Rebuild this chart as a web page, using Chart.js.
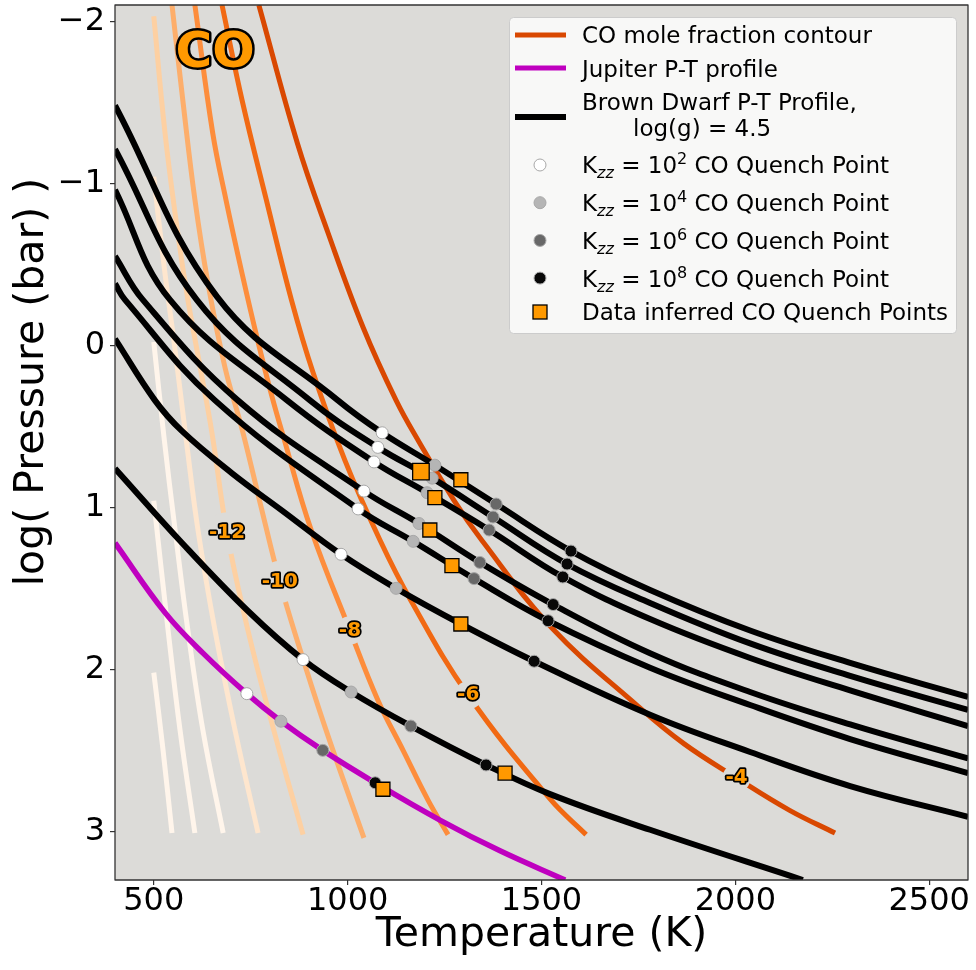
<!DOCTYPE html>
<html>
<head>
<meta charset="utf-8">
<title>CO quench points</title>
<script src="https://cdn.jsdelivr.net/npm/chart.js@4.4.1/dist/chart.umd.min.js"></script>
<style>
  html, body { margin: 0; padding: 0; background: #ffffff; }
  canvas { display: block; }
</style>
</head>
<body>
<canvas id="coChart" width="976" height="970"></canvas>
<script>
// axis ticks
const xTicks = [500, 1000, 1500, 2000, 2500];
const yTicks = [-2, -1, 0, 1, 2, 3];

// CO mole fraction contours, points are [T (K), log P (bar)]
const coLevels = [-20, -18, -16, -14, -12, -10, -8, -6, -4];
const co20 = [[500, 2.02], [524, 2.50], [547, 3.01]];
const co18 = [[500, 0.96], [537, 1.76], [568, 2.38], [606, 3.01]];
const co16 = [[500, -0.02], [526, 0.56], [555, 1.14], [588, 1.76], [627, 2.38], [679, 3.01]];
const co14 = [[500, -1.04], [527, -0.48], [555, 0.03], [584, 0.59], [614, 1.14], [658, 1.76], [710, 2.38], [769, 3.01]];
const co12 = [[500, -2.03], [529, -1.31], [562, -0.69], [588, -0.28], [620, 0.14], [650, 0.54], [689, 1.16], [743, 1.76], [810, 2.38], [885, 3.02]];
const co10 = [[547, -2.10], [575, -1.51], [606, -0.90], [640, -0.38], [684, 0.14], [728, 0.52], [775, 0.98], [825, 1.46], [875, 1.86], [945, 2.38], [1042, 3.04]];
const co8 = [[606, -2.10], [652, -1.31], [686, -0.90], [728, -0.44], [768, -0.03], [803, 0.30], [835, 0.57], [906, 1.14], [1006, 1.76], [1078, 2.19], [1143, 2.50], [1208, 2.81], [1259, 3.02]];
const co6 = [[676, -2.10], [728, -1.51], [790, -0.90], [855, -0.28], [911, 0.17], [993, 0.71], [1083, 1.20], [1162, 1.57], [1311, 2.16], [1522, 2.80], [1615, 3.02]];
const co4 = [[771, -2.10], [870, -1.25], [950, -0.69], [1040, -0.11], [1125, 0.34], [1185, 0.60], [1275, 0.96], [1345, 1.20], [1525, 1.74], [1750, 2.23], [1868, 2.46], [2003, 2.67], [2140, 2.87], [2257, 3.01]];
const coContours = [co20, co18, co16, co14, co12, co10, co8, co6, co4];

// inline contour labels
const coLabelText = ['-12', '-10', '-8', '-6', '-4'];
const coLabelT = [689, 825, 1006, 1311, 2003];
const coLabelP = [1.16, 1.46, 1.76, 2.16, 2.67];

// brown dwarf P-T profiles, log(g) = 4.5
const bd1 = [[400, -1.48], [663, -0.30], [975, 0.34], [1089, 0.54], [1225, 0.74], [1383, 0.98], [1576, 1.27], [1780, 1.51], [2038, 1.76], [2296, 1.96], [2600, 2.17]];
const bd2 = [[400, -1.21], [611, -0.28], [903, 0.34], [1078, 0.63], [1218, 0.82], [1375, 1.06], [1566, 1.35], [1780, 1.59], [2038, 1.84], [2296, 2.04], [2600, 2.25]];
const bd3 = [[400, -0.96], [542, -0.28], [844, 0.34], [1068, 0.72], [1205, 0.91], [1365, 1.14], [1555, 1.43], [1780, 1.69], [2038, 1.93], [2296, 2.13], [2600, 2.35]];
const bd4 = [[400, -0.55], [472, -0.28], [717, 0.34], [1042, 0.90], [1184, 1.10], [1341, 1.34], [1530, 1.60], [1780, 1.90], [2038, 2.14], [2296, 2.34], [2600, 2.55]];
const bd5 = [[400, -0.38], [426, -0.28], [658, 0.34], [1027, 1.01], [1169, 1.21], [1326, 1.44], [1517, 1.70], [1780, 1.99], [2038, 2.22], [2296, 2.43], [2600, 2.64]];
const bd6 = [[400, -0.04], [503, 0.34], [573, 0.53], [702, 0.79], [831, 1.02], [983, 1.29], [1125, 1.50], [1292, 1.72], [1481, 1.95], [1780, 2.28], [2038, 2.51], [2296, 2.72], [2600, 2.91]];
const bd7 = [[400, 0.76], [573, 1.22], [743, 1.64], [885, 1.94], [1009, 2.14], [1163, 2.35], [1357, 2.59], [1522, 2.77], [1780, 2.99], [2174, 3.30]];
const brownDwarfs = [bd1, bd2, bd3, bd4, bd5, bd6, bd7];

// Jupiter P-T profile
const jupiterPT = [[400, 1.22], [529, 1.65], [627, 1.90], [740, 2.15], [828, 2.32], [936, 2.50], [1071, 2.70], [1238, 2.93], [1393, 3.12], [1561, 3.30]];

// quench points for each Kzz, one per profile (bd1..bd7, Jupiter)
const quenchK2 = [[1089, 0.54], [1078, 0.63], [1068, 0.72], [1042, 0.90], [1027, 1.01], [983, 1.29], [885, 1.94], [740, 2.15]];
const quenchK4 = [[1225, 0.74], [1218, 0.82], [1205, 0.91], [1184, 1.10], [1169, 1.21], [1125, 1.50], [1009, 2.14], [828, 2.32]];
const quenchK6 = [[1383, 0.98], [1375, 1.06], [1365, 1.14], [1341, 1.34], [1326, 1.44], [1292, 1.72], [1163, 2.35], [936, 2.50]];
const quenchK8 = [[1576, 1.27], [1566, 1.35], [1555, 1.43], [1530, 1.60], [1517, 1.70], [1481, 1.95], [1357, 2.59], [1071, 2.70]];
const quenchObs = [[1292, 0.83], [1189, 0.78], [1225, 0.94], [1212, 1.14], [1269, 1.36], [1292, 1.72], [1406, 2.64], [1091, 2.74]];

// "CO" title placed in data coordinates
const speciesName = 'CO';
const speciesT = 658;
const speciesP = -1.80;

const yTitle = 'log( Pressure (bar) )';

const contourColors = ['#fff5eb', '#fff5eb', '#fff5eb', '#fee6ce', '#fdd0a2', '#fdae6b', '#fd8d3c', '#f16913', '#d94801'];
const plotBg = '#dcdbd8';
const markerOrange = '#ff9900';
const jupiterColor = '#bf00bf';
const labelFont = 'bold 20px "DejaVu Sans"';

const toXY = pts => pts.map(([x, y]) => ({ x, y }));

const lineStyle = (color, width, order) => ({
  showLine: true,
  borderColor: color,
  borderWidth: width,
  borderJoinStyle: 'round',
  pointRadius: 0,
  tension: 0.4,
  clip: 0,
  order
});

const circleStyle = (fill, order) => ({
  showLine: false,
  pointStyle: 'circle',
  pointRadius: 6,
  pointBackgroundColor: fill,
  pointBorderColor: '#a8a8a8',
  pointBorderWidth: 1,
  order
});

const datasets = [];
coContours.forEach((pts, i) => {
  datasets.push({ label: 'CO ' + coLevels[i], data: toXY(pts), ...lineStyle(contourColors[i], 5, 20) });
});
brownDwarfs.forEach((pts, i) => {
  datasets.push({ label: 'BD ' + (i + 1), data: toXY(pts), ...lineStyle('#000000', 6, 10) });
});
datasets.push({ label: 'Jupiter', data: toXY(jupiterPT), ...lineStyle(jupiterColor, 5.5, 9) });
datasets.push({ label: 'Kzz 1e2', data: toXY(quenchK2), ...circleStyle('#ffffff', 5) });
datasets.push({ label: 'Kzz 1e4', data: toXY(quenchK4), ...circleStyle('#b5b5b5', 4) });
datasets.push({ label: 'Kzz 1e6', data: toXY(quenchK6), ...circleStyle('#686868', 3) });
datasets.push({ label: 'Kzz 1e8', data: toXY(quenchK8), ...circleStyle('#080808', 2) });
datasets.push({
  label: 'Data inferred',
  data: toXY(quenchObs),
  showLine: false,
  pointStyle: 'rect',
  pointRadius: ctx => (ctx.dataIndex === 1 ? 11.7 : 9.9),
  pointBackgroundColor: markerOrange,
  pointBorderColor: '#000000',
  pointBorderWidth: 1.3,
  order: 1
});

function outlinedText(ctx, text, x, y, font, strokeWidth) {
  ctx.font = font;
  ctx.textAlign = 'center';
  ctx.textBaseline = 'middle';
  ctx.lineJoin = 'round';
  ctx.strokeStyle = '#000000';
  ctx.lineWidth = strokeWidth;
  ctx.strokeText(text, x, y);
  ctx.fillStyle = markerOrange;
  ctx.fillText(text, x, y);
}

// K_zz = 10^n CO Quench Point, with sub/superscripts
function kzzLabel(ctx, x, base, power) {
  const main = '23px "DejaVu Sans"';
  const small = '16px "DejaVu Sans"';
  ctx.font = main;
  ctx.fillText('K', x, base);
  x += ctx.measureText('K').width;
  ctx.font = 'italic ' + small;
  ctx.fillText('zz', x, base + 5);
  x += ctx.measureText('zz').width;
  ctx.font = main;
  ctx.fillText(' = 10', x, base);
  x += ctx.measureText(' = 10').width;
  ctx.font = small;
  ctx.fillText(String(power), x, base - 9);
  x += ctx.measureText(String(power)).width;
  ctx.font = main;
  ctx.fillText(' CO Quench Point', x, base);
}

function drawLegend(chart) {
  const { ctx, chartArea: a } = chart;
  const w = 447, h = 316;
  const x0 = a.right - 12 - w;
  const y0 = a.top + 12;
  ctx.save();
  ctx.beginPath();
  ctx.roundRect(x0 + 0.5, y0 + 0.5, w, h, 4);
  ctx.fillStyle = 'rgba(255,255,255,0.8)';
  ctx.fill();
  ctx.strokeStyle = '#cccccc';
  ctx.lineWidth = 1;
  ctx.stroke();

  const lx0 = x0 + 6, lx1 = x0 + 57, mx = x0 + 31, tx = x0 + 73;
  const sample = (y, color, width) => {
    ctx.beginPath();
    ctx.moveTo(lx0, y);
    ctx.lineTo(lx1, y);
    ctx.strokeStyle = color;
    ctx.lineWidth = width;
    ctx.lineCap = 'butt';
    ctx.stroke();
  };
  sample(y0 + 18, contourColors[8], 5);
  sample(y0 + 51, jupiterColor, 5);
  sample(y0 + 100, '#000000', 6);

  ctx.fillStyle = '#000000';
  ctx.textAlign = 'left';
  ctx.textBaseline = 'alphabetic';
  ctx.font = '23px "DejaVu Sans"';
  ctx.fillText('CO mole fraction contour', tx, y0 + 26.4);
  ctx.fillText('Jupiter P-T profile', tx, y0 + 59.7);
  ctx.fillText('Brown Dwarf P-T Profile,', tx, y0 + 93);
  ctx.fillText('log(g) = 4.5', x0 + 124, y0 + 119);

  const fills = ['#ffffff', '#b5b5b5', '#686868', '#080808'];
  const powers = [2, 4, 6, 8];
  fills.forEach((f, i) => {
    const cy = y0 + 148 + i * 37.7;
    ctx.beginPath();
    ctx.arc(mx, cy, 6, 0, Math.PI * 2);
    ctx.fillStyle = f;
    ctx.fill();
    ctx.strokeStyle = '#a8a8a8';
    ctx.lineWidth = 1;
    ctx.stroke();
    ctx.fillStyle = '#000000';
    kzzLabel(ctx, tx, cy + 8.4, powers[i]);
  });

  const sy = y0 + 295;
  ctx.fillStyle = markerOrange;
  ctx.fillRect(mx - 7, sy - 7, 14, 14);
  ctx.strokeStyle = '#000000';
  ctx.lineWidth = 1.3;
  ctx.strokeRect(mx - 7, sy - 7, 14, 14);
  ctx.fillStyle = '#000000';
  ctx.font = '23px "DejaVu Sans"';
  ctx.fillText('Data inferred CO Quench Points', tx, sy + 8.4);
  ctx.restore();
}

const decorations = {
  id: 'decorations',
  beforeDatasetsDraw(chart) {
    const { ctx, chartArea: a } = chart;
    ctx.save();
    ctx.fillStyle = plotBg;
    ctx.fillRect(a.left, a.top, a.right - a.left, a.bottom - a.top);
    ctx.restore();
  },
  // contours are drawn first, lowest level last; once done, open a gap under each label
  afterDatasetDraw(chart, args) {
    if (args.index !== 0) return;
    const { ctx, scales } = chart;
    ctx.save();
    ctx.font = labelFont;
    ctx.fillStyle = plotBg;
    coLabelText.forEach((t, i) => {
      const r = ctx.measureText(t).width / 2 + 3;
      ctx.beginPath();
      ctx.arc(scales.x.getPixelForValue(coLabelT[i]), scales.y.getPixelForValue(coLabelP[i]), r, 0, Math.PI * 2);
      ctx.fill();
    });
    ctx.restore();
  },
  afterDatasetsDraw(chart) {
    const { ctx, chartArea: a, scales } = chart;
    ctx.save();
    coLabelText.forEach((t, i) => {
      outlinedText(ctx, t, scales.x.getPixelForValue(coLabelT[i]), scales.y.getPixelForValue(coLabelP[i]), labelFont, 3.5);
    });
    outlinedText(ctx, speciesName, scales.x.getPixelForValue(speciesT), scales.y.getPixelForValue(speciesP), 'bold 50px "DejaVu Sans"', 5);
    ctx.strokeStyle = '#333333';
    ctx.lineWidth = 1.3;
    ctx.strokeRect(a.left, a.top, a.right - a.left, a.bottom - a.top);
    ctx.restore();
  },
  afterDraw(chart) {
    const { ctx } = chart;
    // y axis title, sitting a little above the middle of the axis
    ctx.save();
    ctx.translate(32, 382);
    ctx.rotate(-Math.PI / 2);
    ctx.font = '41px "DejaVu Sans"';
    ctx.fillStyle = '#000000';
    ctx.textAlign = 'center';
    ctx.textBaseline = 'middle';
    ctx.fillText(yTitle, 0, 0);
    ctx.restore();
    drawLegend(chart);
  }
};

// keep the plot box fixed: no extra room for overhanging tick labels
const noOverhang = s => {
  s.paddingTop = 0;
  s.paddingBottom = 0;
  s.paddingLeft = 0;
  s.paddingRight = 0;
};

Chart.defaults.font.family = '"DejaVu Sans"';
Chart.defaults.color = '#000000';

new Chart(document.getElementById('coChart'), {
  type: 'scatter',
  data: { datasets },
  options: {
    responsive: false,
    animation: false,
    events: [],
    layout: { autoPadding: false, padding: { top: 5, right: 8, left: 0, bottom: 0 } },
    plugins: { legend: { display: false }, tooltip: { enabled: false } },
    scales: {
      x: {
        type: 'linear',
        min: 400,
        max: 2600,
        afterBuildTicks: s => { s.ticks = xTicks.map(v => ({ value: v })); },
        afterFit: s => { s.height = 90; noOverhang(s); },
        grid: { drawOnChartArea: false, drawTicks: true, tickLength: 5, color: '#333333', lineWidth: 1.2 },
        border: { display: false },
        ticks: { font: { size: 32, lineHeight: 1 }, color: '#000000', padding: 1, maxRotation: 0, callback: v => String(v) },
        title: { display: true, text: 'Temperature (K)', font: { size: 41 }, color: '#000000', padding: { top: 0, bottom: 10 } }
      },
      y: {
        type: 'linear',
        reverse: true,
        min: -2.1,
        max: 3.3,
        afterBuildTicks: s => { s.ticks = yTicks.map(v => ({ value: v })); },
        afterFit: s => { s.width = 115; noOverhang(s); },
        grid: { drawOnChartArea: false, drawTicks: true, tickLength: 5, color: '#333333', lineWidth: 1.2 },
        border: { display: false },
        ticks: {
          font: { size: 32 },
          color: '#000000',
          padding: 5,
          callback: v => (v < 0 ? '\u2212' + Math.abs(v) : String(v))
        },
        title: { display: false }
      }
    }
  },
  plugins: [decorations]
});
</script>
</body>
</html>
